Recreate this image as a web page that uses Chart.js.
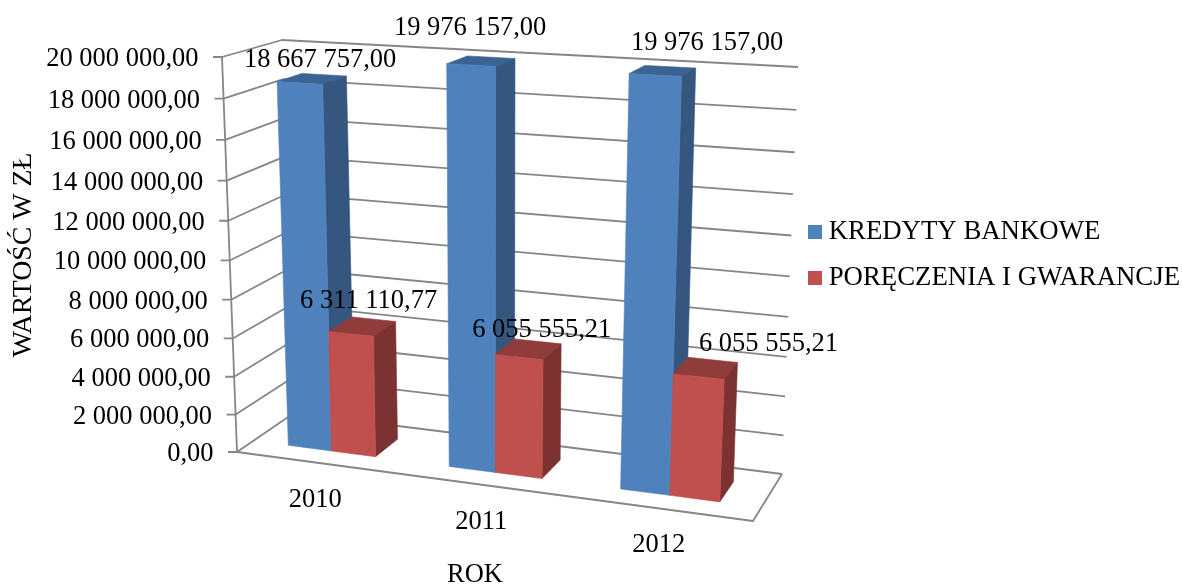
<!DOCTYPE html>
<html>
<head>
<meta charset="utf-8">
<title>Kredyty i poręczenia</title>
<script src="https://cdn.jsdelivr.net/npm/chart.js@4"></script>
<style>
  html, body { margin: 0; padding: 0; background: #fff; }
  #wrap { width: 1182px; height: 586px; }
</style>
</head>
<body>
<div id="wrap"><canvas id="chart"></canvas></div>
<script>
var years = ["2010", "2011", "2012"];
var kredyty = [18667757, 19976157, 19976157];
var poreczenia = [6311110.77, 6055555.21, 6055555.21];
var seriesNames = ["KREDYTY BANKOWE", "PORĘCZENIA I GWARANCJE"];
var maxValue = 20000000;
var stepValue = 2000000;

var serif = "'Liberation Serif', 'Times New Roman', serif";
var gridColor = "#868686";

// walls of the 3D box on the page: corners of the front and back planes
var frontPlane = { tl: [222, 57], tr: [772, 87], br: [753, 521], bl: [237, 452] };
var backPlane = { tl: [282, 40], tr: [798, 67], br: [782, 474], bl: [294, 413] };
var barDepth = [0.29, 0.72];

// colours per series: front, side, top
var faces = [
    ["#4f81bd", "#34567f", "#3b6494"],
    ["#c0504d", "#7b3230", "#8f3c3a"]
];

// where the value labels sit relative to the top of their bar
var labelShift = [
    [[-4, -15], [-21, -29], [37, -24]],
    [[-5, -18], [4, -11], [56, -16]]
];

function money(v) {
    var parts = v.toFixed(2).split(".");
    return parts[0].replace(/\B(?=(\d{3})+$)/g, " ") + "," + parts[1];
}

function homography(c) {
    var x0 = c.tl[0], y0 = c.tl[1], x1 = c.tr[0], y1 = c.tr[1];
    var x2 = c.br[0], y2 = c.br[1], x3 = c.bl[0], y3 = c.bl[1];
    var dx1 = x1 - x2, dx2 = x3 - x2, sx = x0 - x1 + x2 - x3;
    var dy1 = y1 - y2, dy2 = y3 - y2, sy = y0 - y1 + y2 - y3;
    var d = dx1 * dy2 - dx2 * dy1;
    var g = (sx * dy2 - dx2 * sy) / d;
    var h = (dx1 * sy - sx * dy1) / d;
    return function (u, t) {
        var w = g * u + h * t + 1;
        return [
            ((x1 - x0 + g * x1) * u + (x3 - x0 + h * x3) * t + x0) / w,
            ((y1 - y0 + g * y1) * u + (y3 - y0 + h * y3) * t + y0) / w
        ];
    };
}

var front = homography(frontPlane);
var back = homography(backPlane);

// chart pixel (px, py) at depth d -> page position
function project(chart, px, py, d) {
    var a = chart.chartArea;
    var u = (px - a.left) / (a.right - a.left);
    var t = (py - a.top) / (a.bottom - a.top);
    var f = front(u, t), b = back(u, t);
    return [f[0] + (b[0] - f[0]) * d, f[1] + (b[1] - f[1]) * d];
}

function poly(ctx, pts, fill) {
    ctx.beginPath();
    ctx.moveTo(pts[0][0], pts[0][1]);
    for (var i = 1; i < pts.length; i++) ctx.lineTo(pts[i][0], pts[i][1]);
    ctx.closePath();
    ctx.fillStyle = fill;
    ctx.fill();
    ctx.lineWidth = 0.6;
    ctx.strokeStyle = fill;
    ctx.stroke();
}

function segment(ctx, a, b) {
    ctx.beginPath();
    ctx.moveTo(a[0], a[1]);
    ctx.lineTo(b[0], b[1]);
    ctx.stroke();
}

// legend square as a point style, so the text can sit close to it
function swatch(color) {
    var c = document.createElement("canvas");
    c.width = 14;
    c.height = 14;
    var g = c.getContext("2d");
    g.fillStyle = color;
    g.fillRect(0, 0, 14, 14);
    return c;
}

var box3d = {
    id: "box3d",
    // walls go under the bars
    beforeDatasetsDraw: function (chart) {
        var ctx = chart.ctx, a = chart.chartArea, y = chart.scales.y;
        ctx.save();
        ctx.strokeStyle = gridColor;
        ctx.lineWidth = 1.8;
        ctx.lineJoin = "round";
        y.ticks.forEach(function (tick) {
            var py = y.getPixelForValue(tick.value);
            var p0 = project(chart, a.left, py, 0);
            var p1 = project(chart, a.left, py, 1);
            var p2 = project(chart, a.right, py, 1);
            ctx.beginPath();
            ctx.moveTo(p0[0] - 9, p0[1]);
            ctx.lineTo(p0[0], p0[1]);
            ctx.lineTo(p1[0], p1[1]);
            ctx.lineTo(p2[0], p2[1]);
            ctx.stroke();
        });
        segment(ctx, project(chart, a.left, a.top, 0), project(chart, a.left, a.bottom, 0));
        var floorL = project(chart, a.left, a.bottom, 0);
        var floorR = project(chart, a.right, a.bottom, 0);
        var floorB = project(chart, a.right, a.bottom, 1);
        ctx.beginPath();
        ctx.moveTo(floorL[0], floorL[1]);
        ctx.lineTo(floorR[0], floorR[1]);
        ctx.lineTo(floorB[0], floorB[1]);
        ctx.stroke();
        ctx.restore();
    },
    // the real bar elements stay invisible; their geometry is projected here
    afterDatasetsDraw: function (chart) {
        var ctx = chart.ctx, x = chart.scales.x, y = chart.scales.y, a = chart.chartArea;
        var d0 = barDepth[0], d1 = barDepth[1];
        ctx.save();
        years.forEach(function (year, i) {
            chart.data.datasets.forEach(function (ds, s) {
                var bar = chart.getDatasetMeta(s).data[i];
                var l = bar.x - bar.width / 2, r = bar.x + bar.width / 2;
                poly(ctx, [project(chart, l, bar.y, d0), project(chart, r, bar.y, d0),
                    project(chart, r, bar.y, d1), project(chart, l, bar.y, d1)], faces[s][2]);
                poly(ctx, [project(chart, r, bar.y, d0), project(chart, r, bar.y, d1),
                    project(chart, r, bar.base, d1), project(chart, r, bar.base, d0)], faces[s][1]);
                poly(ctx, [project(chart, l, bar.y, d0), project(chart, r, bar.y, d0),
                    project(chart, r, bar.base, d0), project(chart, l, bar.base, d0)], faces[s][0]);
            });
        });
        ctx.fillStyle = "#000";
        ctx.textBaseline = "middle";
        ctx.font = "26.5px " + serif;
        // value axis labels follow the slanted front edge of the wall
        ctx.textAlign = "right";
        y.ticks.forEach(function (tick) {
            var p = project(chart, a.left, y.getPixelForValue(tick.value), 0);
            ctx.fillText(tick.label, p[0] - 23.5, p[1] + 2);
        });
        ctx.textAlign = "center";
        chart.data.datasets.forEach(function (ds, s) {
            ds.data.forEach(function (v, i) {
                var bar = chart.getDatasetMeta(s).data[i];
                var p = project(chart, bar.x, bar.y, d1);
                ctx.fillText(money(v), p[0] + labelShift[s][i][0], p[1] + labelShift[s][i][1]);
            });
        });
        // years sit on the floor, in front of the box
        years.forEach(function (year, i) {
            var p = project(chart, x.getPixelForValue(i), a.bottom, 0);
            ctx.fillText(year, p[0] - 1, p[1] + 37);
        });
        ctx.fillText("ROK", 475, 575);
        ctx.restore();
    }
};

new Chart(document.getElementById("chart"), {
    type: "bar",
    data: {
        labels: years,
        datasets: [
            { label: seriesNames[0], data: kredyty, backgroundColor: "rgba(0,0,0,0)", borderWidth: 0 },
            { label: seriesNames[1], data: poreczenia, backgroundColor: "rgba(0,0,0,0)", borderWidth: 0 }
        ]
    },
    options: {
        responsive: true,
        maintainAspectRatio: false,
        animation: false,
        datasets: { bar: { categoryPercentage: 0.55, barPercentage: 1 } },
        layout: { padding: { top: 58, bottom: 134, left: 7, right: -8 } },
        scales: {
            x: {
                afterFit: function (s) { s.height = 0; },
                ticks: { display: false },
                grid: { display: false },
                border: { display: false }
            },
            y: {
                min: 0,
                max: maxValue,
                afterFit: function (s) { s.width = 210; },
                ticks: {
                    display: false,
                    stepSize: stepValue,
                    callback: function (v) { return money(v); }
                },
                grid: { display: false, drawTicks: false },
                border: { display: false },
                title: {
                    display: true,
                    text: "WARTOŚĆ W ZŁ",
                    color: "#000",
                    font: { family: serif, size: 27.8 },
                    padding: 0
                }
            }
        },
        plugins: {
            tooltip: { enabled: false },
            legend: {
                position: "right",
                maxWidth: 420,
                labels: {
                    color: "#000",
                    font: { family: serif, size: 26.8 },
                    usePointStyle: true,
                    pointStyleWidth: 1,
                    padding: 20,
                    generateLabels: function () {
                        return seriesNames.map(function (name, s) {
                            return { text: name, pointStyle: swatch(faces[s][0]), lineWidth: 0, datasetIndex: s };
                        });
                    }
                }
            }
        }
    },
    plugins: [box3d]
});
</script>
</body>
</html>
